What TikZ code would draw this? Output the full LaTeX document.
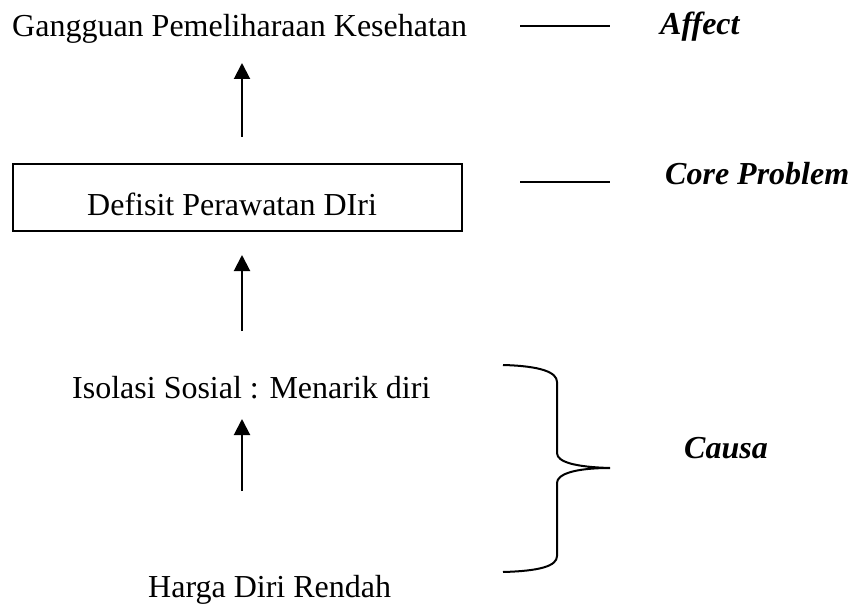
\documentclass[tikz,border=0pt]{standalone}
\usepackage{fontspec}
\setmainfont{Liberation Serif}
\usetikzlibrary{arrows.meta}
\begin{document}
\begin{tikzpicture}[x=1pt,y=-1pt,
  lbl/.style={font=\fontsize{32}{38}\selectfont, inner sep=0pt, anchor=base west},
  side/.style={font=\fontsize{32}{38}\selectfont\bfseries\itshape, inner sep=0pt, anchor=base west},
  uparrow/.style={line width=2pt, -{Triangle[length=16pt,width=16pt]}},
  tick/.style={line width=2pt}]
\useasboundingbox (0,0) rectangle (856,604);
% texts
\node[lbl] (affect) at (12,37) {Gangguan Pemeliharaan Kesehatan};
\draw[line width=1.5pt] (13,164) rectangle (462,231);
\node[lbl] (core) at (87,215) {Defisit Perawatan DIri};
\node[lbl] (isol) at (72,398) {Isolasi Sosial : Menarik diri};
\node[lbl] (harga) at (148,597) {Harga Diri Rendah};
% side labels
\node[side] (lA) at (660,35) {Affect};
\node[side] (lC) at (665,185) {Core Problem};
\node[side] (lS) at (684,458) {Causa};
% dashes
\coordinate (t1a) at (520,26); \coordinate (t1b) at (610,26);
\coordinate (t2a) at (520,182); \coordinate (t2b) at (610,182);
\draw[tick] (t1a) -- (t1b);
\draw[tick] (t2a) -- (t2b);
% arrows
\coordinate (a1s) at (242,137); \coordinate (a1e) at (242,63);
\coordinate (a2s) at (242,331); \coordinate (a2e) at (242,255);
\coordinate (a3s) at (242,491); \coordinate (a3e) at (242,419);
\draw[uparrow] (a1s) -- (a1e);
\draw[uparrow] (a2s) -- (a2e);
\draw[uparrow] (a3s) -- (a3e);
% brace
\coordinate (bt) at (503,365);
\coordinate (bm) at (610,468);
\coordinate (bb) at (503,572);
\draw[line width=2pt]
  (bt) .. controls (540,366) and (557,372) .. (557,382) -- (557,453)
  .. controls (557,462) and (575,467) .. (bm)
  .. controls (575,468) and (557,474) .. (557,483) -- (557,556)
  .. controls (557,566) and (540,571) .. (bb);
\end{tikzpicture}
\end{document}
